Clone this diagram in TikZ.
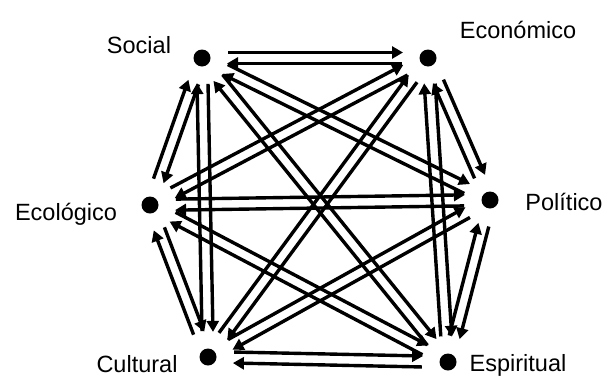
\documentclass[tikz,border=0pt]{standalone}
\usepackage{fontspec}
\setmainfont{Liberation Sans}
\usetikzlibrary{calc,arrows.meta}
\begin{document}
\begin{tikzpicture}[x=1pt,y=-1pt,
  dot/.style={circle,fill=black,inner sep=0pt,minimum size=17pt},
  lbl/.style={anchor=base,inner sep=0pt,font=\fontsize{23.5}{28}\selectfont},
  arr/.style={line width=3.4pt,-{Triangle[length=11pt,width=12pt]},shorten <=26pt,shorten >=25pt}]
\useasboundingbox[fill=white] (0,0) rectangle (609,378);
\node[dot] (S)  at (202,58) {};
\node[dot] (E)  at (428,58) {};
\node[dot] (P)  at (490,200) {};
\node[dot] (Es) at (448,362) {};
\node[dot] (C)  at (208,357) {};
\node[dot] (Ec) at (150,205) {};
\node[lbl] (tS)  at (139,53) {Social};
\node[lbl] (tE)  at (518,38) {Económico};
\node[lbl] (tP)  at (564,210) {Político};
\node[lbl] (tEs) at (518,371) {Espiritual};
\node[lbl] (tC)  at (137,372) {Cultural};
\node[lbl] (tEc) at (66,220) {Ecológico};
\foreach \a/\b in {S/E,S/Ec,S/C,S/P,S/Es,E/Ec,E/P,E/C,E/Es,Ec/P,Ec/C,Ec/Es,P/C,P/Es,C/Es}{
  \draw[arr] ($(\a)!5.5pt!90:(\b)$) -- ($(\b)!5.5pt!-90:(\a)$);
  \draw[arr] ($(\b)!5.5pt!90:(\a)$) -- ($(\a)!5.5pt!-90:(\b)$);
}
\end{tikzpicture}
\end{document}
